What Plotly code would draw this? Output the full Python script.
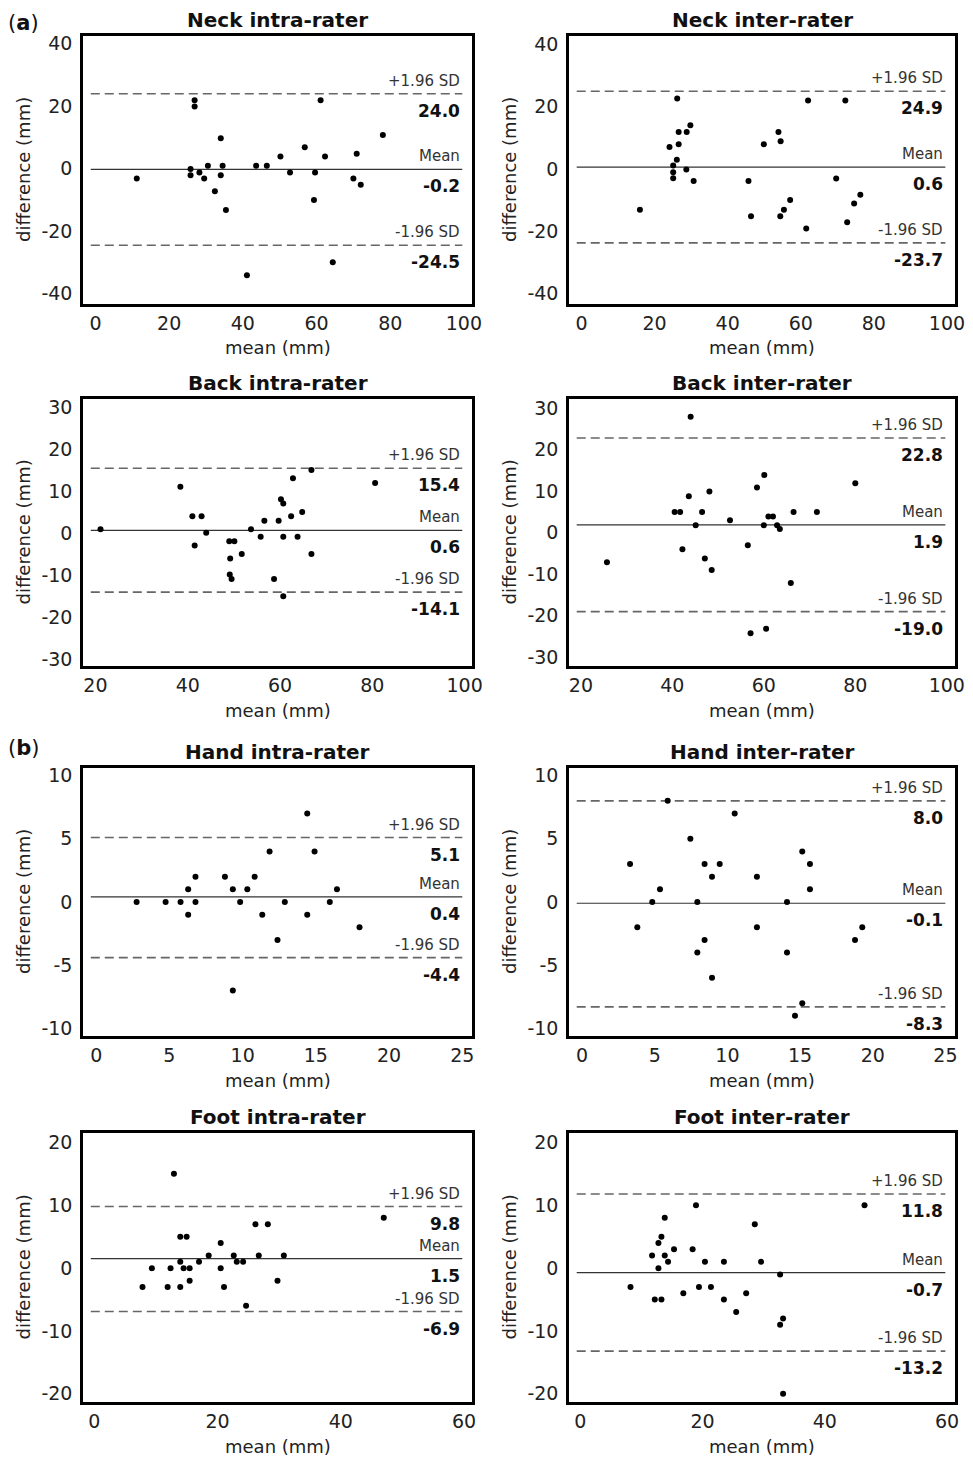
import plotly.graph_objects as go

# ---------------- data ----------------
neck_intra_mean = [11.2, 26.9, 26.9, 25.8, 25.8, 28.2, 29.5, 30.5, 32.4, 34.0, 34.5, 34.0, 35.4, 41.1,
                   43.6, 46.5, 50.2, 52.8, 56.8, 59.6, 59.3, 61.1, 62.3, 64.4, 70.0, 70.9, 72.0, 78.0]
neck_intra_diff = [-3.1, 21.9, 19.9, -0.1, -2.1, -1.2, -3.1, 1.0, -7.2, 9.8, 1.0, -2.1, -13.2, -34.1,
                   1.0, 1.0, 3.9, -1.2, 6.9, -1.2, -10.0, 21.9, 3.9, -29.9, -3.1, 4.8, -5.1, 10.8]
neck_intra_limits = [24.0, -0.2, -24.5]

neck_inter_mean = [16.0, 26.2, 24.1, 26.6, 28.8, 29.8, 26.6, 26.1, 25.1, 25.1, 25.1, 28.7, 30.7, 45.7,
                   46.4, 49.9, 53.9, 54.5, 57.1, 55.4, 54.4, 61.5, 62.0, 69.7, 72.2, 72.7, 74.6, 76.3]
neck_inter_diff = [-13.1, 22.6, 7.0, 11.8, 11.8, 14.0, 7.9, 2.9, 1.1, -1.1, -3.0, -0.2, -3.9, -3.9,
                   -15.2, 7.9, 11.8, 8.9, -10.0, -13.1, -15.2, -19.1, 21.9, -3.1, 21.9, -17.1, -11.1, -8.3]
neck_inter_limits = [24.9, 0.6, -23.7]

back_intra_mean = [21.1, 38.4, 41.0, 43.0, 44.0, 41.5, 49.0, 50.1, 49.2, 51.7, 49.1, 49.5, 53.7, 55.8,
                   56.6, 59.7, 60.2, 60.7, 58.7, 60.7, 60.7, 62.4, 62.8, 63.8, 64.8, 66.8, 66.8, 80.6]
back_intra_diff = [0.85, 11.0, 4.0, 4.0, 0.05, -3.0, -2.0, -2.0, -6.1, -5.0, -9.9, -11.0, 0.85, -0.9,
                   2.9, 2.9, 8.0, 7.0, -11.0, -15.1, -0.9, 4.0, 13.0, -0.9, 5.0, 15.0, -5.0, 11.9]
back_intra_limits = [15.4, 0.6, -14.1]

back_inter_mean = [25.7, 44.0, 40.5, 41.7, 43.6, 46.5, 48.1, 45.1, 42.2, 47.1, 48.6, 52.6, 56.5,
                   58.5, 60.1, 60.0, 61.0, 62.0, 62.9, 63.5, 66.5, 65.9, 71.6, 57.1, 60.5, 80.0]
back_inter_diff = [-7.1, 27.9, 5.0, 5.0, 8.8, 5.0, 9.9, 1.8, -4.0, -6.2, -9.0, 3.0, -3.0,
                   10.9, 13.9, 1.8, 3.9, 3.9, 1.8, 0.9, 5.0, -12.1, 5.0, -24.2, -23.1, 11.9]
back_inter_limits = [22.8, 1.9, -19.0]

hand_intra_mean = [2.76, 4.74, 5.76, 6.28, 6.28, 6.78, 6.78, 8.79, 9.33, 9.33, 9.83, 10.32, 10.82,
                   11.34, 11.84, 12.38, 12.88, 14.41, 14.41, 14.91, 15.95, 16.44, 17.98]
hand_intra_diff = [0, 0, 0, 1, -1, 2, 0, 2, 1, -7, 0, 1, 2, -1, 4, -3, 0, 7, -1, 4, 0, 1, -2]
hand_intra_limits = [5.1, 0.4, -4.4]

hand_inter_mean = [3.30, 3.80, 4.83, 5.36, 5.89, 7.45, 7.93, 7.93, 8.43, 8.43, 8.94, 8.94, 9.47,
                   10.50, 12.03, 12.03, 14.10, 14.10, 15.15, 15.15, 14.65, 15.68, 15.68, 18.78, 19.28]
hand_inter_diff = [3, -2, 0, 1, 8, 5, 0, -4, 3, -3, 2, -6, 3, 7, 2, -2, 0, -4, 4, -8, -9, 3, 1, -3, -2]
hand_inter_limits = [8.0, -0.1, -8.3]

foot_intra_mean = [7.82, 9.34, 11.9, 12.37, 12.92, 13.95, 14.98, 13.95, 14.49, 15.47, 13.95, 15.47,
                   16.99, 18.56, 20.51, 20.51, 21.05, 22.63, 23.12, 24.15, 24.63, 26.15, 26.69,
                   28.16, 29.73, 30.76, 46.98]
foot_intra_diff = [-3, 0, -3, 0, 15, 5, 5, 1, 0, 0, -3, -2, 1, 2, 4, 0, -3, 2, 1, 1, -6, 7, 2, 7, -2, 2, 8]
foot_intra_limits = [9.8, 1.5, -6.9]

foot_inter_mean = [8.22, 11.75, 12.19, 13.28, 12.79, 12.79, 13.28, 13.82, 13.82, 14.36, 15.34, 16.86,
                   18.38, 18.93, 19.42, 20.4, 21.38, 23.5, 23.5, 25.51, 27.14, 28.55, 29.58, 32.69,
                   33.18, 32.69, 33.18, 46.5]
foot_inter_diff = [-3, 2, -5, -5, 0, 4, 5, 2, 8, 1, 3, -4, 3, 10, -3, 1, -3, 1, -5, -7, -4, 7, 1, -1,
                   -8, -9, -20, 10]
foot_inter_limits = [11.8, -0.7, -13.2]

titles = ["Neck intra-rater", "Neck inter-rater", "Back intra-rater", "Back inter-rater",
          "Hand intra-rater", "Hand inter-rater", "Foot intra-rater", "Foot inter-rater"]
limit_labels = ["+1.96 SD", "Mean", "-1.96 SD"]
section_labels = ["a", "b"]
x_title = "mean (mm)"
y_title = "difference (mm)"

neck_xticks = [0, 20, 40, 60, 80, 100]
neck_yticks = [-40, -20, 0, 20, 40]
back_xticks = [20, 40, 60, 80, 100]
back_yticks = [-30, -20, -10, 0, 10, 20, 30]
hand_xticks = [0, 5, 10, 15, 20, 25]
hand_yticks = [-10, -5, 0, 5, 10]
foot_xticks = [0, 20, 40, 60]
foot_yticks = [-20, -10, 0, 10, 20]

# ---------------- layout geometry ----------------
# the page body has an 8px margin; the figure fills the window from there on
PAGE_W, PAGE_H, BODY = 973, 1459, 8
W, H = PAGE_W - BODY, PAGE_H - BODY


def px_x(p):
    return (p - BODY) / W


def px_y(p):
    return 1 - (p - BODY) / H


COLS = [(83, 472), (569, 955)]
ROWS = [(36, 304), (399, 666), (768, 1036), (1133, 1402)]
FONT = "DejaVu Sans"

panels = [
    (neck_intra_mean, neck_intra_diff, neck_intra_limits, [-3.4, 102.2], [-43.3, 42.5], neck_xticks, neck_yticks),
    (neck_inter_mean, neck_inter_diff, neck_inter_limits, [-3.4, 102.2], [-43.3, 42.6], neck_xticks, neck_yticks),
    (back_intra_mean, back_intra_diff, back_intra_limits, [17.3, 101.6], [-31.7, 31.9], back_xticks, back_yticks),
    (back_inter_mean, back_inter_diff, back_inter_limits, [17.4, 101.8], [-32.1, 32.2], back_xticks, back_yticks),
    (hand_intra_mean, hand_intra_diff, hand_intra_limits, [-0.9, 25.66], [-10.6, 10.6], hand_xticks, hand_yticks),
    (hand_inter_mean, hand_inter_diff, hand_inter_limits, [-0.9, 25.66], [-10.6, 10.6], hand_xticks, hand_yticks),
    (foot_intra_mean, foot_intra_diff, foot_intra_limits, [-1.84, 61.3], [-21.3, 21.5], foot_xticks, foot_yticks),
    (foot_inter_mean, foot_inter_diff, foot_inter_limits, [-1.84, 61.3], [-21.3, 21.5], foot_xticks, foot_yticks),
]

fig = go.Figure()
layout = {}
shapes = []
annotations = []

for i, (xs, ys, lims, xr, yr, xt, yt) in enumerate(panels):
    n = i + 1
    row, col = divmod(i, 2)
    xd, yd = COLS[col], ROWS[row]
    sfx = "" if n == 1 else str(n)
    xa, ya = "x" + sfx, "y" + sfx

    fig.add_trace(go.Scatter(x=xs, y=ys, mode="markers", xaxis=xa, yaxis=ya,
                             marker=dict(size=6, color="black"), showlegend=False,
                             hoverinfo="skip"))

    common = dict(showline=True, mirror=True, linecolor="black", linewidth=2.5,
                  showgrid=False, zeroline=False, ticks="", automargin=False,
                  ticklabeloverflow="allow",
                  tickfont=dict(family=FONT, size=19, color="#222"))
    layout["xaxis" + sfx] = dict(domain=[px_x(xd[0]), px_x(xd[1])], anchor=ya, range=xr,
                                 tickvals=xt, ticktext=[str(v) for v in xt],
                                 ticklabelstandoff=0, **common)
    layout["yaxis" + sfx] = dict(domain=[px_y(yd[1]), px_y(yd[0])], anchor=xa, range=yr,
                                 tickvals=yt, ticktext=[str(v) for v in yt],
                                 ticklabelstandoff=4, **common)

    # axis titles
    annotations.append(dict(xref=xa + " domain", x=0.5, xanchor="center",
                            yref=ya + " domain", y=0, yanchor="middle", yshift=-44,
                            text=x_title, showarrow=False,
                            font=dict(family=FONT, size=18, color="#222")))
    annotations.append(dict(xref=xa + " domain", x=0, xanchor="center", xshift=-60,
                            yref=ya + " domain", y=0.5, yanchor="middle",
                            textangle=-90, text=y_title, showarrow=False,
                            font=dict(family=FONT, size=18, color="#222")))

    for k, v in enumerate(lims):
        is_mean = (k == 1)
        shapes.append(dict(type="line", xref=xa + " domain", x0=0.02, x1=0.975,
                           yref=ya, y0=v, y1=v, layer="below",
                           line=dict(color="#333" if is_mean else "#666",
                                     width=1.2 if is_mean else 1.6,
                                     dash="solid" if is_mean else "9px,5px")))
        annotations.append(dict(xref=xa + " domain", x=0.975, xanchor="right",
                                yref=ya, y=v, yanchor="middle", yshift=13,
                                text=limit_labels[k], showarrow=False,
                                font=dict(family=FONT, size=15, color="#333")))
        annotations.append(dict(xref=xa + " domain", x=0.975, xanchor="right",
                                yref=ya, y=v, yanchor="middle", yshift=-17,
                                text="<b>%.1f</b>" % v, showarrow=False,
                                font=dict(family=FONT, size=17, color="#111")))

    annotations.append(dict(xref=xa + " domain", x=0.5, xanchor="center",
                            yref=ya + " domain", y=1, yanchor="middle", yshift=16,
                            text="<b>%s</b>" % titles[i], showarrow=False,
                            font=dict(family=FONT, size=20, color="#111")))

for lab, ytop in zip(section_labels, [9, 734]):
    annotations.append(dict(xref="paper", x=px_x(23), xanchor="center",
                            yref="paper", y=px_y(ytop), yanchor="top",
                            text="(<b>%s</b>)" % lab, showarrow=False,
                            font=dict(family=FONT, size=21, color="#111")))

fig.update_layout(width=W, height=H, margin=dict(l=0, r=0, t=0, b=0),
                  template="none",
                  paper_bgcolor="white", plot_bgcolor="white",
                  font=dict(family=FONT, color="#222"),
                  shapes=shapes, annotations=annotations, **layout)

fig.write_html("out.html")
